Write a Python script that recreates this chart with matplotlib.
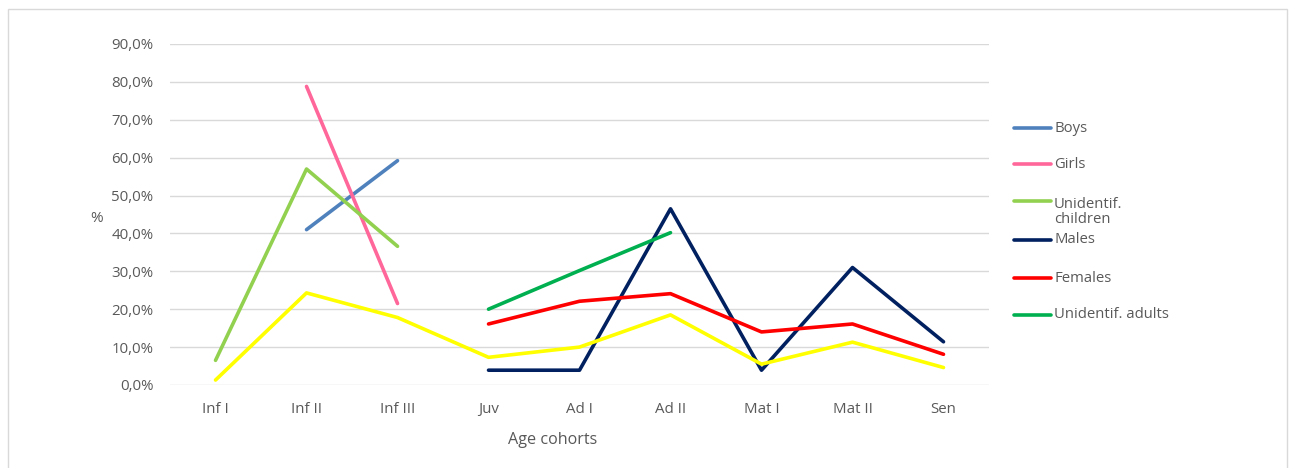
import numpy as np
import matplotlib
matplotlib.use('Agg')
import matplotlib.pyplot as plt
from matplotlib.lines import Line2D
from matplotlib.patches import Rectangle
from matplotlib.ticker import FuncFormatter

plt.rcParams['font.family'] = ['Open Sans', 'DejaVu Sans']

# age cohorts (x axis)
cohorts = ['Inf I', 'Inf II', 'Inf III', 'Juv', 'Ad I', 'Ad II', 'Mat I', 'Mat II', 'Sen']
nan = np.nan

# percentages per cohort
boys = [nan, 41.0, 59.2, nan, nan, nan, nan, nan, nan]
girls = [nan, 78.8, 21.5, nan, nan, nan, nan, nan, nan]
unid_children = [6.5, 57.0, 36.6, nan, nan, nan, nan, nan, nan]
males = [nan, nan, nan, 3.9, 3.9, 46.5, 3.9, 31.0, 11.4]
females = [nan, nan, nan, 16.1, 22.1, 24.1, 14.0, 16.1, 8.1]
unid_adults = [nan, nan, nan, 20.0, 30.2, 40.2, nan, nan, nan]
total = [1.3, 24.3, 17.8, 7.3, 10.0, 18.5, 5.5, 11.3, 4.6]

series_names = ['Boys', 'Girls', 'Unidentif.\nchildren', 'Males', 'Females', 'Unidentif. adults']
series_vals = [boys, girls, unid_children, males, females, unid_adults]
colors = ['#4f81bd', '#ff6699', '#92d050', '#002060', '#ff0000', '#00b050']

fig = plt.figure(figsize=(12.94, 4.68), dpi=100)
ax = fig.add_axes([0.1314, 0.1774, 0.6329, 0.7286])

x = np.arange(len(cohorts))
for name, vals, c in zip(series_names, series_vals, colors):
    ax.plot(x, vals, color=c, lw=2.6, solid_capstyle='round')
ax.plot(x, total, color='#ffff00', lw=2.6, solid_capstyle='round')

ax.set_xlim(-0.5, len(cohorts) - 0.5)
ax.set_ylim(0, 90)
ax.set_yticks(np.arange(0, 91, 10))
ax.yaxis.set_major_formatter(FuncFormatter(lambda v, p: ('%.1f%%' % v).replace('.', ',')))
ax.set_xticks(x)
ax.set_xticklabels(cohorts, va='baseline')
ax.tick_params(length=0, colors='#595959', labelsize=10.8)
ax.tick_params(axis='x', pad=20)
ax.tick_params(axis='y', pad=12)
ax.grid(axis='y', color='#d9d9d9', lw=1)
ax.set_axisbelow(True)
for s in ax.spines.values():
    s.set_visible(False)

fig.text(97 / 1294, 1 - 218 / 468, '%', ha='center', va='center', color='#595959', fontsize=11)
fig.text(553 / 1294, 1 - 440 / 468, 'Age cohorts', ha='center', va='center', color='#595959', fontsize=11.6)

# legend drawn by hand (Excel style spacing)
leg_y = [128, 164, 201, 240, 278, 315]
for name, c, yy in zip(series_names, colors, leg_y):
    fy = 1 - yy / 468
    fig.add_artist(Line2D([1014 / 1294, 1051 / 1294], [fy, fy], color=c, lw=2.6,
                          solid_capstyle='round', transform=fig.transFigure))
    if '\n' in name:
        fig.text(1054 / 1294, fy + 4 / 468, name, ha='left', va='top', color='#595959',
                 fontsize=10.7, linespacing=1.0)
    else:
        fig.text(1054 / 1294, fy, name, ha='left', va='center', color='#595959', fontsize=10.7)

fig.add_artist(Rectangle((8 / 1294, -0.05), 1279 / 1294, 1.05 - 9 / 468, fill=False,
                         edgecolor='#d9d9d9', lw=1, transform=fig.transFigure))

fig.savefig('out.png', dpi=100, facecolor='white')
